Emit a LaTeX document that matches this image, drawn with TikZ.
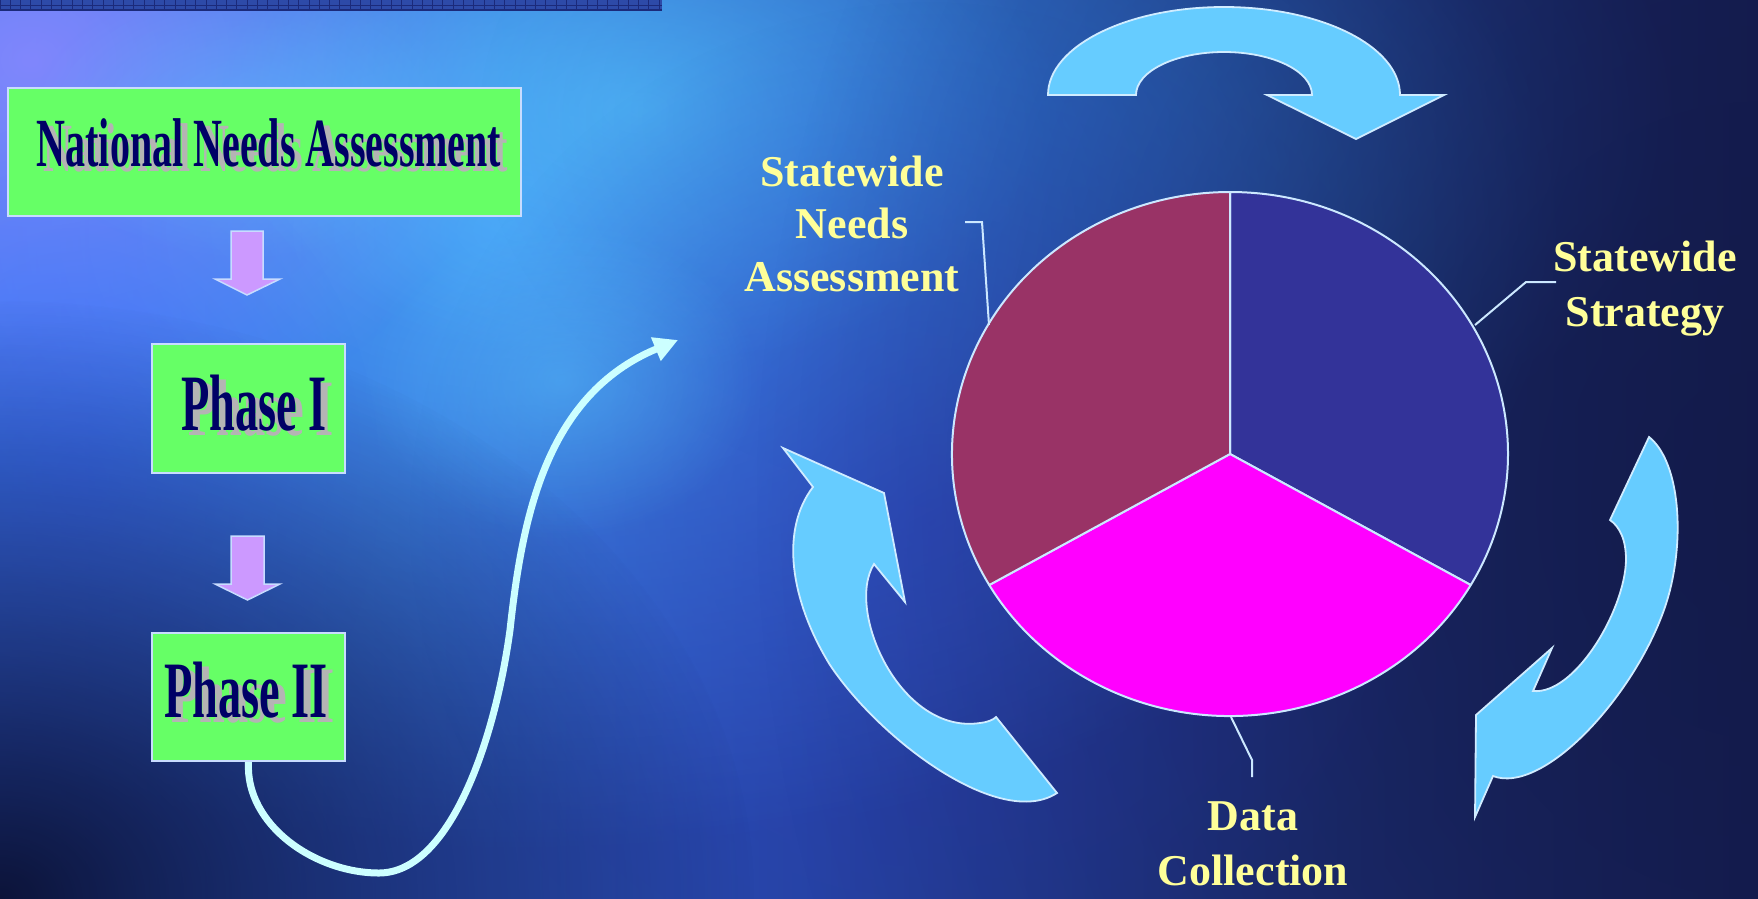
\documentclass[tikz,border=0pt]{standalone}
\usepackage{fontspec}
\setmainfont{Liberation Serif}
\usepackage{graphicx}
\usetikzlibrary{arrows.meta,fadings,calc}
\tikzfading[name=glowfade, inner color=transparent!0, outer color=transparent!100]
\definecolor{boxgreen}{HTML}{66FF66}
\definecolor{boxedge}{HTML}{C8DCFF}
\definecolor{navytext}{HTML}{000066}
\definecolor{shadowgray}{HTML}{B4B4B4}
\definecolor{purplearrow}{HTML}{CC99FF}
\definecolor{cyanline}{HTML}{CCFFFF}
\definecolor{blockblue}{HTML}{66CCFF}
\definecolor{blockedge}{HTML}{D0ECFF}
\definecolor{pieindigo}{HTML}{333399}
\definecolor{piemagenta}{HTML}{FF00FF}
\definecolor{piewine}{HTML}{993366}
\definecolor{pieedge}{HTML}{CCE8FF}
\definecolor{lblyellow}{HTML}{FFFF99}
\definecolor{barfill}{HTML}{2D4AA8}
\definecolor{barline}{HTML}{1B2A7A}
\definecolor{bgleft}{RGB}{52,102,230}
\definecolor{bgright}{RGB}{22,29,82}
\definecolor{gA}{RGB}{74,168,255}
\definecolor{gB}{RGB}{140,136,255}
\definecolor{gC}{RGB}{88,200,255}
\definecolor{gD}{RGB}{42,112,208}
\definecolor{gE}{RGB}{44,60,190}
\definecolor{gF}{RGB}{10,15,48}
\definecolor{gG}{RGB}{18,26,72}
\definecolor{gH}{RGB}{60,100,255}
\tikzset{
  glow/.style={fill=#1, path fading=glowfade},
  greenbox/.style={draw=boxedge, line width=2pt, fill=boxgreen, inner sep=0pt, anchor=north west},
  boxtext/.style={text=navytext, anchor=base, inner sep=0pt},
  downarrow/.style={draw=boxedge, line width=1.5pt, fill=purplearrow},
  blockarrow/.style={draw=blockedge, line width=1.8pt, fill=blockblue, line join=miter},
  slice/.style={draw=pieedge, line width=2pt, line join=round},
  leader/.style={draw=pieedge, line width=2pt},
  lbl/.style={text=lblyellow, anchor=base, inner sep=0pt, font=\bfseries},
  flowline/.style={draw=cyanline, line width=7pt, -{Triangle[length=24pt,width=24pt]}}
}
\newcommand{\boxfont}[2]{\scalebox{0.58}[1]{\fontsize{#1}{#1}\selectfont\bfseries #2}}
\newcommand{\shadowed}[2]{\makebox[0pt][l]{\hspace*{7pt}\raisebox{-5pt}{\color{shadowgray}\boxfont{#1}{#2}}}\boxfont{#1}{#2}}
\begin{document}
\begin{tikzpicture}[x=1pt,y=-1pt]
\useasboundingbox (0,0) rectangle (1758,898);
% background
\shade[left color=bgleft, right color=bgright] (0,0) rectangle (1758,898);
\fill[glow=gA, opacity=0.85] (520,230) ellipse[x radius=1040, y radius=620];
\fill[glow=gB, opacity=0.85] (30,60) ellipse[x radius=480, y radius=400];
\fill[glow=gC, opacity=0.7] (640,110) ellipse[x radius=420, y radius=260];
\fill[glow=gD, opacity=0.6] (1080,120) ellipse[x radius=600, y radius=400];
\fill[glow=gE, opacity=0.6] (930,520) ellipse[x radius=520, y radius=520];
\fill[glow=gH, opacity=0.5] (80,480) ellipse[x radius=300, y radius=360];
\fill[glow=gC, opacity=0.45] (560,380) ellipse[x radius=200, y radius=160];
\fill[glow=gC, opacity=0.4] (250,120) ellipse[x radius=220, y radius=140];
\fill[glow=gF, opacity=0.95] (0,898) ellipse[x radius=760, y radius=600];
\fill[glow=gG, opacity=0.75] (1758,500) ellipse[x radius=1000, y radius=1200];
% top bar
\fill[barfill] (0,0) rectangle (662,10);
\foreach \i in {0,...,64} {\draw[barline, line width=1pt] ({\i*10.3},0) -- ({\i*10.3},10);}
\draw[barline, line width=0.8pt] (0,5) -- (662,5);
\draw[barline, line width=1.2pt] (0,10) -- (662,10);

% left column boxes
\node[greenbox, minimum width=513pt, minimum height=128pt] (nna) at (7,87) {};
\node[greenbox, minimum width=193pt, minimum height=129pt] (ph1) at (151,343) {};
\node[greenbox, minimum width=193pt, minimum height=128pt] (ph2) at (151,632) {};

\node[boxtext] (nnat) at (269,166) {\shadowed{69}{National Needs Assessment}};
\node[boxtext] (ph1t) at (254,430) {\shadowed{80}{Phase I}};
\node[boxtext] (ph2t) at (246,717) {\shadowed{80}{Phase II}};

% purple down arrows
\filldraw[downarrow] (231,231) -- (263,231) -- (263,279) -- (280,279) -- (247,295) -- (215,279) -- (231,279) -- cycle;
\filldraw[downarrow] (231,536) -- (264,536) -- (264,584) -- (280,584) -- (247.5,600) -- (215,584) -- (231,584) -- cycle;

% S-shaped connector
\coordinate (send) at (678,340);
\draw[flowline] (ph2.south) .. controls (245,825) and (315,873) .. (379,873)
  .. controls (450,873) and (495,740) .. (510,630)
  .. controls (522,520) and (545,395) .. (send);

% pie
\coordinate (pc) at (1230,454);
\filldraw[slice, fill=pieindigo] (pc) -- ++(0,-262) arc[start angle=-90, end angle=30, x radius=278, y radius=262] -- cycle;
\filldraw[slice, fill=piemagenta] (pc) -- ++({278*cos(30)},{262*sin(30)}) arc[start angle=30, end angle=150, x radius=278, y radius=262] -- cycle;
\filldraw[slice, fill=piewine] (pc) -- ++({278*cos(150)},{262*sin(150)}) arc[start angle=150, end angle=270, x radius=278, y radius=262] -- cycle;

% labels
\node[lbl] (sna) at (852,186) {\fontsize{44}{52.5}\selectfont\bfseries\begin{tabular}[t]{@{}c@{}}Statewide\\Needs\\Assessment\end{tabular}};
\node[lbl] (sst) at (1645,271) {\fontsize{44}{55}\selectfont\bfseries\begin{tabular}[t]{@{}c@{}}Statewide\\Strategy\end{tabular}};
\node[lbl] (sdc) at (1253,830) {\fontsize{44}{55}\selectfont\bfseries\begin{tabular}[t]{@{}c@{}}Data\\Collection\end{tabular}};

% leader lines
\coordinate (snaA) at (965,222);
\coordinate (snaP) at (989,325);
\coordinate (sstA) at (1556,282);
\coordinate (sstP) at (1475,325);
\coordinate (sdcA) at (1252,777);
\coordinate (sdcP) at (1231,717);
\draw[leader] (snaA) -- (982,222) -- (snaP);
\draw[leader] (sstA) -- (1526,282) -- (sstP);
\draw[leader] (sdcA) -- (1252,760) -- (sdcP);

% curved block arrows
\filldraw[blockarrow] (1048,95) arc[start angle=180, end angle=360, x radius=176, y radius=88]
  -- (1444,95) -- (1356,139) -- (1267,95) -- (1312,95)
  arc[start angle=0, end angle=-180, x radius=88, y radius=43] -- cycle;

\filldraw[blockarrow] (1649,437) .. controls (1678,460) and (1685,530) .. (1670,590)
  .. controls (1650,670) and (1570,770) .. (1513,778)
  .. controls (1505,779) and (1498,778) .. (1493,776)
  -- (1475,817) -- (1476,715) -- (1552,648) -- (1533,691)
  .. controls (1575,695) and (1625,610) .. (1626,560)
  .. controls (1626,540) and (1620,527) .. (1610,520) -- cycle;

\filldraw[blockarrow] (783,448) -- (884,493) -- (905,602) -- (874,564)
  .. controls (845,610) and (900,735) .. (980,723)
  .. controls (988,722) and (993,720) .. (996,717)
  -- (1057,793)
  .. controls (1000,830) and (880,740) .. (830,665)
  .. controls (790,600) and (780,530) .. (813,487) -- cycle;
\end{tikzpicture}
\end{document}
